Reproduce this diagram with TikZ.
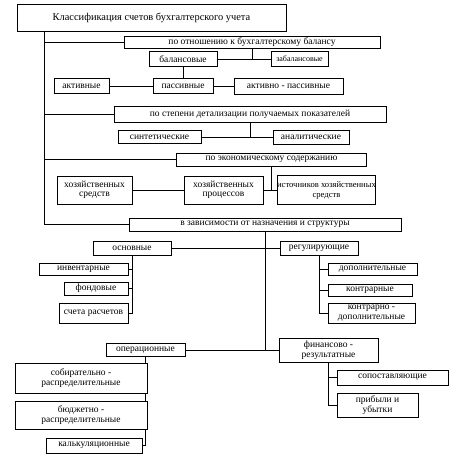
\documentclass[tikz,border=0pt]{standalone}
\usepackage{fontspec}
\setmainfont{Liberation Serif}
\pgfdeclarelayer{background}
\pgfsetlayers{background,main}

\begin{document}
\begin{tikzpicture}[
  x=1pt, y=-1pt,
  box/.style={rectangle, draw, fill=white, line width=0.9pt, inner sep=0pt, align=center, font=\fontsize{9.5}{9.5}\selectfont},
  small/.style={font=\fontsize{8}{9}\selectfont},
  link/.style={line width=0.8pt}
]
  \useasboundingbox (0,0) rectangle (459,458);
  \node[box, minimum width=269, minimum height=27, font=\fontsize{10.4}{11}\selectfont] (title) at (151.5,17.5) {Классификация счетов бухгалтерского учета};
  \node[box, minimum width=256, minimum height=12] (otn) at (252,42) {по отношению к бухгалтерскому балансу};
  \node[box, minimum width=68, minimum height=15] (bal) at (183,59) {балансовые};
  \node[box, small, minimum width=57, minimum height=15] (zabal) at (299.5,59) {забалансовые};
  \node[box, minimum width=55, minimum height=15] (akt) at (81.5,86) {активные};
  \node[box, minimum width=60, minimum height=15] (pass) at (183,86) {пассивные};
  \node[box, minimum width=109, minimum height=16] (aktpass) at (288.5,86) {активно - пассивные};
  \node[box, minimum width=272, minimum height=16] (step) at (250,114) {по степени детализации получаемых показателей};
  \node[box, minimum width=83, minimum height=13] (sint) at (159.5,137) {синтетические};
  \node[box, minimum width=76, minimum height=14] (anal) at (311,137) {аналитические};
  \node[box, minimum width=190, minimum height=13] (econ) at (271.5,159.5) {по экономическому содержанию};
  \node[box, minimum width=75, minimum height=28] (hsr) at (94.5,190) {хозяйственных\\средств};
  \node[box, minimum width=79, minimum height=28] (hpr) at (223.5,190) {хозяйственных\\процессов};
  \node[box, font=\fontsize{8.6}{10}\selectfont, minimum width=81, minimum height=29] (ist) at (326.5,190) {источников хозяйственных\\средств};
  \node[box, minimum width=272, minimum height=13] (zav) at (265,224.5) {в зависимости от назначения и структуры};
  \node[box, minimum width=78, minimum height=14] (osn) at (132,248) {основные};
  \node[box, minimum width=78, minimum height=14] (reg) at (319,248) {регулирующие};
  \node[box, minimum width=89, minimum height=12] (inv) at (83.5,269) {инвентарные};
  \node[box, minimum width=64, minimum height=13] (fond) at (96,288.5) {фондовые};
  \node[box, minimum width=69, minimum height=20] (scr) at (93.5,313) {счета расчетов};
  \node[box, minimum width=89, minimum height=12] (dop) at (372.5,269) {дополнительные};
  \node[box, minimum width=84, minimum height=12] (kontr) at (370,290) {контрарные};
  \node[box, minimum width=87, minimum height=20] (kdop) at (371.5,313) {контрарно -\\дополнительные};
  \node[box, minimum width=79, minimum height=13] (oper) at (145.5,350) {операционные};
  \node[box, minimum width=99, minimum height=24] (fin) at (328.5,350) {финансово -\\результатные};
  \node[box, minimum width=111, minimum height=15] (sop) at (392.5,377.5) {сопоставляющие};
  \node[box, minimum width=81, minimum height=24] (prib) at (377.5,405) {прибыли и\\убытки};
  \node[box, minimum width=132, minimum height=30] (sobr) at (81,378) {собирательно -\\распределительные};
  \node[box, minimum width=132, minimum height=28] (budg) at (81,415) {бюджетно -\\распределительные};
  \node[box, minimum width=96, minimum height=15] (kalk) at (94,445.5) {калькуляционные};
  \coordinate (trunk) at (44,31);
  \begin{pgfonlayer}{background}
    \draw[link] (trunk) |- (zav.west);
    \foreach \n in {otn,step,econ}
      \draw[link] (\n.west -| trunk) -- (\n.west);
    \draw[link] (otn.south) -- (otn.south |- bal.east);
    \draw[link] (bal.east) -- (zabal.west);
    \draw[link] (bal.south) -- (pass.north);
    \draw[link] (akt.east) -- (pass.west);
    \draw[link] (pass.east) -- (aktpass.west);
    \draw[link] (step.south) -- (step.south |- sint.east);
    \draw[link] (sint.east) -- (anal.west);
    \draw[link] (econ.south) -- (econ.south |- hpr.east);
    \draw[link] (hsr.east) -- (hpr.west);
    \draw[link] (hpr.east) -- (ist.west);
    \draw[link] (zav.south) -- (zav.south |- fin.west);
    \draw[link] (osn.east) -- (reg.west);
    \draw[link] (oper.east) -- (fin.west);
    \draw[link] (osn.south) |- (scr.east);
    \foreach \n in {inv,fond}
      \draw[link] (\n.east) -- (\n.east -| osn.south);
    \draw[link] (reg.south) |- (kdop.west);
    \foreach \n in {dop,kontr}
      \draw[link] (\n.west) -- (\n.west -| reg.south);
    \draw[link] (oper.south) |- (kalk.east);
    \draw[link] (fin.south) |- (prib.west);
    \draw[link] (sop.west) -- (sop.west -| fin.south);
  \end{pgfonlayer}
\end{tikzpicture}
\end{document}
